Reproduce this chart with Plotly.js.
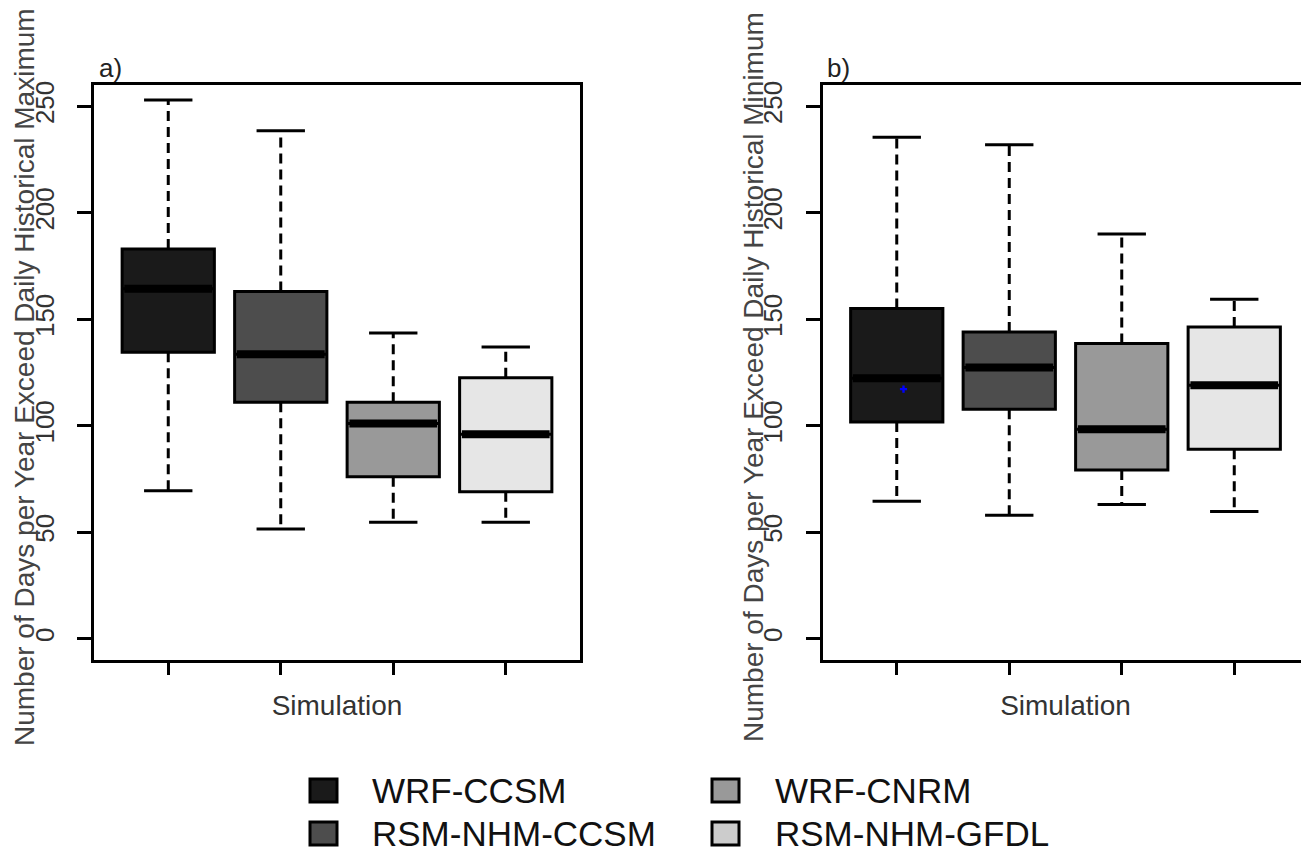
<!DOCTYPE html>
<html>
<head>
<meta charset="utf-8">
<script src="https://cdn.plot.ly/plotly-3.0.1.min.js"></script>
<style>
html, body { margin: 0; padding: 0; overflow: hidden; background: #fff; }
#chart { width: 1312px; height: 855px; }
</style>
</head>
<body>
<div id="chart"></div>
<script>
// ---- data ----
const simulations = ['WRF-CCSM', 'RSM-NHM-CCSM', 'WRF-CNRM', 'RSM-NHM-GFDL'];
const positions = [1, 2, 3, 4];
const boxColors = ['#1a1a1a', '#4d4d4d', '#999999', '#e6e6e6'];
const legendColors = ['#1a1a1a', '#4d4d4d', '#999999', '#cccccc'];

// panel a) exceed daily historical maximum
const minA = [69.5, 51.5, 54.7, 54.7];
const q1A = [134.5, 111, 76, 69];
const medA = [164.3, 133.6, 101, 96];
const q3A = [183, 163, 111, 122.5];
const maxA = [253, 238.5, 143.5, 137];

// panel b) exceed daily historical minimum
const minB = [64.5, 58, 63, 59.7];
const q1B = [101.7, 107.7, 79.2, 89];
const medB = [122.3, 127.3, 98.3, 119];
const q3B = [155, 144, 138.6, 146.4];
const maxB = [235.5, 232, 190, 159.4];
const meanB = [117.2];

const yTicks = [0, 50, 100, 150, 200, 250];
const panelLabels = ['a)', 'b)'];
const yTitles = ['Number of Days per Year Exceed Daily Historical Maximum',
                 'Number of Days per Year Exceed Daily Historical Minimum'];
const xTitle = 'Simulation';

// ---- geometry helpers ----
const W = 1312, H = 855;
const px = v => v / W;
const py = v => 1 - v / H;
const BOXW = 0.82, CAPHALF = 0.215;

const traces = [];
function addPanel(xa, ya, mn, q1, md, q3, mx) {
  positions.forEach((p, i) => {
    traces.push({
      type: 'box', x: [p], q1: [q1[i]], median: [md[i]], q3: [q3[i]],
      lowerfence: [q1[i]], upperfence: [q3[i]],
      width: BOXW, whiskerwidth: 0, boxpoints: false,
      fillcolor: boxColors[i], line: { color: '#000', width: 3 },
      xaxis: xa, yaxis: ya, name: simulations[i], showlegend: false, hoverinfo: 'skip'
    });
    // dashed whiskers
    traces.push({
      type: 'scatter', mode: 'lines', x: [p, p], y: [q3[i], mx[i]],
      line: { color: '#000', width: 3, dash: '10px,6px' },
      xaxis: xa, yaxis: ya, showlegend: false, hoverinfo: 'skip'
    });
    traces.push({
      type: 'scatter', mode: 'lines', x: [p, p], y: [q1[i], mn[i]],
      line: { color: '#000', width: 3, dash: '10px,6px' },
      xaxis: xa, yaxis: ya, showlegend: false, hoverinfo: 'skip'
    });
    // staples
    traces.push({
      type: 'scatter', mode: 'lines', x: [p - CAPHALF, p + CAPHALF], y: [mx[i], mx[i]],
      line: { color: '#000', width: 3 }, xaxis: xa, yaxis: ya, showlegend: false, hoverinfo: 'skip'
    });
    traces.push({
      type: 'scatter', mode: 'lines', x: [p - CAPHALF, p + CAPHALF], y: [mn[i], mn[i]],
      line: { color: '#000', width: 3 }, xaxis: xa, yaxis: ya, showlegend: false, hoverinfo: 'skip'
    });
    // thick median
    traces.push({
      type: 'scatter', mode: 'lines', x: [p - BOXW / 2 + 0.02, p + BOXW / 2 - 0.02], y: [md[i], md[i]],
      line: { color: '#000', width: 8 }, xaxis: xa, yaxis: ya, showlegend: false, hoverinfo: 'skip'
    });
  });
}
addPanel('x', 'y', minA, q1A, medA, q3A, maxA);
addPanel('x2', 'y2', minB, q1B, medB, q3B, maxB);
traces.push({
  type: 'scatter', mode: 'markers', x: [positions[0] + 0.06], y: meanB,
  marker: { symbol: 'cross', size: 6, color: '#0000ff' },
  xaxis: 'x2', yaxis: 'y2', showlegend: false, hoverinfo: 'skip'
});

const FONT = 'Liberation Sans, Arial, sans-serif';
function xAxis(domain) {
  return {
    domain: domain, range: [0.34, 4.66], tickvals: positions, showticklabels: false,
    ticks: 'outside', ticklen: 12, tickwidth: 3, tickcolor: '#000',
    showline: true, mirror: true, linewidth: 3, linecolor: '#000',
    showgrid: false, zeroline: false, fixedrange: true,
    title: { text: xTitle, font: { family: FONT, size: 28, color: '#333' }, standoff: 22 }
  };
}
function yAxis(anchor) {
  return {
    anchor: anchor, domain: [py(660), py(85)], range: [-10, 260], tickvals: yTicks,
    ticks: 'outside', ticklen: 14, tickwidth: 3, tickcolor: '#000', tickangle: -90,
    tickfont: { family: FONT, size: 26, color: '#333' }, ticklabelstandoff: 13,
    showline: true, mirror: true, linewidth: 3, linecolor: '#000',
    showgrid: false, zeroline: false, fixedrange: true
  };
}

const annotations = [
  { text: panelLabels[0], x: px(97), y: py(68), xref: 'paper', yref: 'paper', xanchor: 'left', yanchor: 'middle', showarrow: false, font: { family: FONT, size: 26, color: '#222' } },
  { text: panelLabels[1], x: px(825), y: py(68), xref: 'paper', yref: 'paper', xanchor: 'left', yanchor: 'middle', showarrow: false, font: { family: FONT, size: 26, color: '#222' } },
  { text: yTitles[0], textangle: -90, x: px(25), y: py(377), xref: 'paper', yref: 'paper', xanchor: 'center', yanchor: 'middle', showarrow: false, font: { family: FONT, size: 28, color: '#444' } },
  { text: yTitles[1], textangle: -90, x: px(754), y: py(377), xref: 'paper', yref: 'paper', xanchor: 'center', yanchor: 'middle', showarrow: false, font: { family: FONT, size: 28, color: '#444' } }
];
const shapes = [];
// legend: column 1 -> items 0,1 ; column 2 -> items 2,3
const legCols = [[0, 1], [2, 3]];
const legSqX = [310, 712];
const legTxtX = [370, 773];
const legRowY = [790, 833];
legCols.forEach((col, c) => {
  col.forEach((k, r) => {
    shapes.push({
      type: 'rect', xref: 'paper', yref: 'paper',
      x0: px(legSqX[c]), x1: px(legSqX[c] + 27), y0: py(legRowY[r] + 12), y1: py(legRowY[r] - 11),
      fillcolor: legendColors[k], line: { color: '#000', width: 3 }
    });
    annotations.push({
      text: simulations[k], x: px(legTxtX[c]), y: py(legRowY[r]), xref: 'paper', yref: 'paper',
      xanchor: 'left', yanchor: 'middle', showarrow: false,
      font: { family: FONT, size: 35, color: '#111' }
    });
  });
});

const layout = {
  width: W, height: H, margin: { l: 0, r: 0, t: 0, b: 0, pad: 0 },
  paper_bgcolor: '#fff', plot_bgcolor: '#fff', showlegend: false,
  xaxis: Object.assign(xAxis([px(94), px(580)]), { anchor: 'y' }),
  yaxis: yAxis('x'),
  xaxis2: Object.assign(xAxis([px(822.5), px(1308.5)]), { anchor: 'y2' }),
  yaxis2: yAxis('x2'),
  annotations: annotations, shapes: shapes
};

Plotly.newPlot('chart', traces, layout, { displayModeBar: false, staticPlot: true });
</script>
</body>
</html>
